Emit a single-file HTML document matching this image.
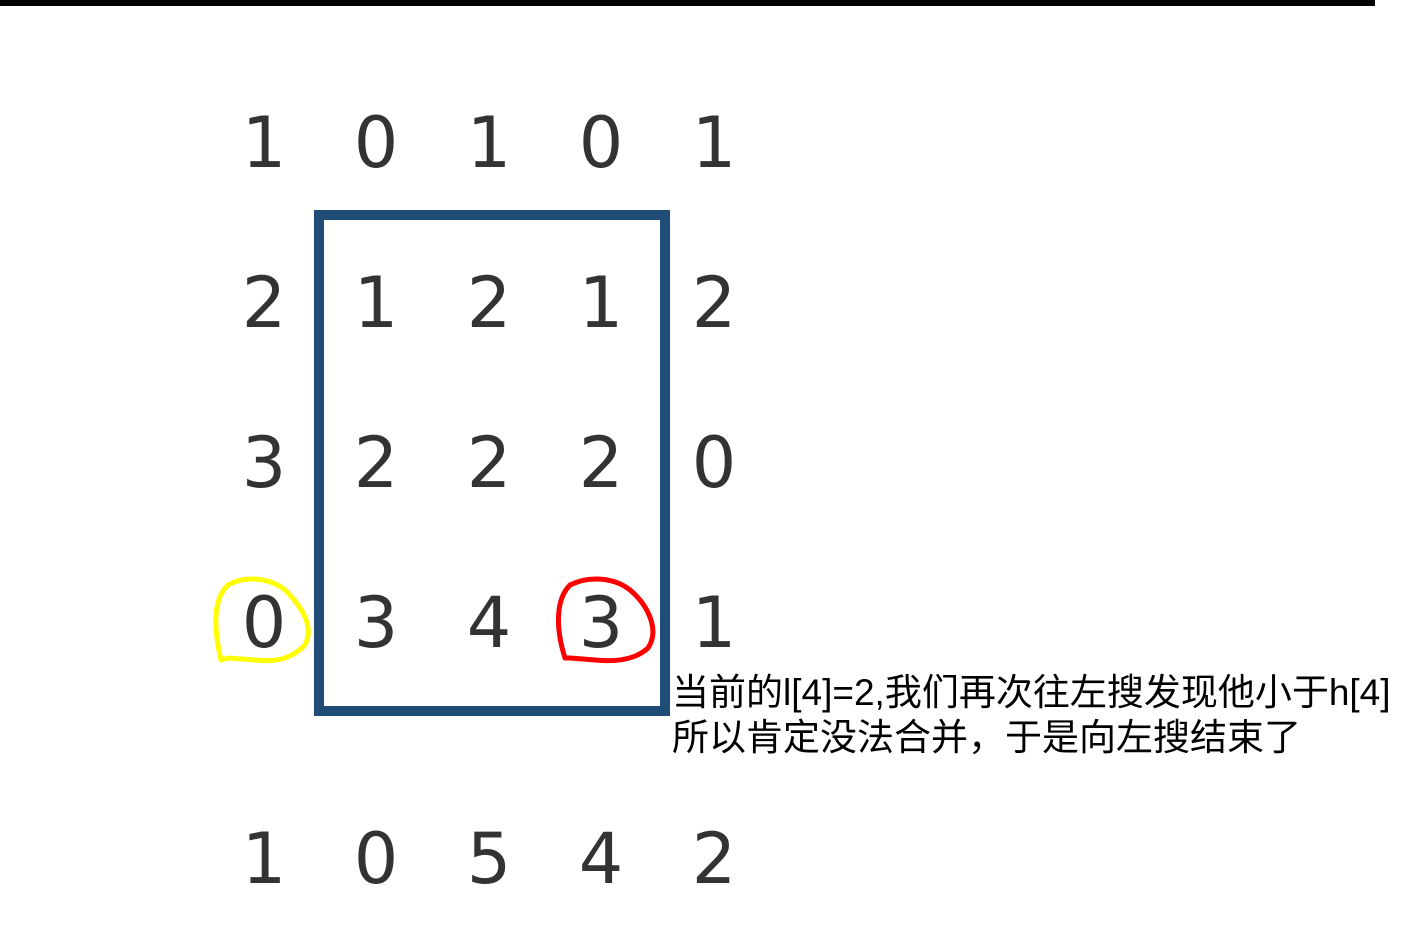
<!DOCTYPE html>
<html><head><meta charset="utf-8"><style>
body{margin:0;width:1422px;height:937px;background:#fff;position:relative;overflow:hidden}
.d{position:absolute;font-family:"DejaVu Sans",sans-serif;font-size:70px;color:#333;width:80px;text-align:center;line-height:1}
.t{position:absolute;left:672px;font-family:"Liberation Sans","Noto Sans CJK SC",sans-serif;font-size:37px;color:#000;white-space:nowrap;line-height:1;transform-origin:left top}
</style></head><body>
<div style="position:absolute;left:0;top:0;width:1375px;height:6px;background:#000"></div>
<div style="position:absolute;left:314px;top:210px;width:336px;height:486px;border:10px solid #204d75"></div>
<svg width="1422" height="937" style="position:absolute;left:0;top:0">
<path d="M221 660 C214 630 212 600 228 585 C245 575 270 578 285 590 C300 605 315 625 305 645 C290 660 275 662 255 660 L228 658 Z" fill="none" stroke="#ffff00" stroke-width="5" stroke-linejoin="round"/>
<path d="M565 658 C556 630 555 600 570 585 C590 575 615 578 630 590 C648 605 660 630 648 648 C635 660 615 662 595 660 L570 658 Z" fill="none" stroke="#ff0000" stroke-width="5" stroke-linejoin="round"/>
</svg>
<div class="d" style="left:224px;top:108px">1</div><div class="d" style="left:336px;top:108px">0</div><div class="d" style="left:449px;top:108px">1</div><div class="d" style="left:561px;top:108px">0</div><div class="d" style="left:674px;top:108px">1</div>
<div class="d" style="left:224px;top:268px">2</div><div class="d" style="left:336px;top:268px">1</div><div class="d" style="left:449px;top:268px">2</div><div class="d" style="left:561px;top:268px">1</div><div class="d" style="left:674px;top:268px">2</div>
<div class="d" style="left:224px;top:428px">3</div><div class="d" style="left:336px;top:428px">2</div><div class="d" style="left:449px;top:428px">2</div><div class="d" style="left:561px;top:428px">2</div><div class="d" style="left:674px;top:428px">0</div>
<div class="d" style="left:224px;top:588px">0</div><div class="d" style="left:336px;top:588px">3</div><div class="d" style="left:449px;top:588px">4</div><div class="d" style="left:561px;top:588px">3</div><div class="d" style="left:674px;top:588px">1</div>
<div class="d" style="left:224px;top:824px">1</div><div class="d" style="left:336px;top:824px">0</div><div class="d" style="left:449px;top:824px">5</div><div class="d" style="left:561px;top:824px">4</div><div class="d" style="left:674px;top:824px">2</div>
<div class="t" style="top:674px;transform:scaleX(1.0)">当前的l[4]=2,我们再次往左搜发现他小于h[4]</div>
<div class="t" style="top:719px">所以肯定没法合并，于是向左搜结束了</div>
</body></html>
